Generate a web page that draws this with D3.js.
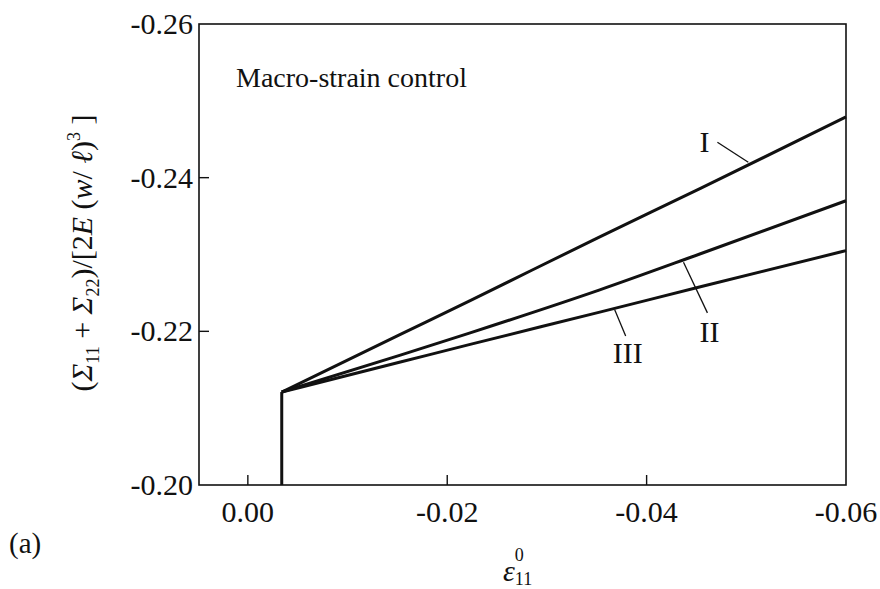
<!DOCTYPE html>
<html>
<head>
<meta charset="utf-8" />
<title>Macro-strain control</title>
<script src="https://d3js.org/d3.v7.min.js"></script>
<style>
    body { margin: 0; background: #fff; }
    svg text { font-family: "Liberation Serif", "Times New Roman", serif; fill: #111; }
</style>
</head>
<body>
<svg id="chart" width="880" height="589"></svg>
<script>
    // data (x = eps11^0, y = normalised stress sum)
    var xTicks = [0.00, -0.02, -0.04, -0.06];
    var yTicks = [-0.20, -0.22, -0.24, -0.26];
    var xTickLabels = ["0.00", "-0.02", "-0.04", "-0.06"];
    var yTickLabels = ["-0.20", "-0.22", "-0.24", "-0.26"];

    // vertical jump at the onset
    var riseX = [-0.0034, -0.0034];
    var riseY = [-0.200, -0.2121];

    var strainX = [-0.0034, -0.0153, -0.0223, -0.0353, -0.0454, -0.0600];
    var curveI   = [-0.2121, -0.2196, -0.2240, -0.2323, -0.2386, -0.2479];
    var curveII  = [-0.2121, -0.2169, -0.2198, -0.2254, -0.2301, -0.2370];
    var curveIII = [-0.2121, -0.2160, -0.2183, -0.2225, -0.2258, -0.2305];

    var curveNames = ["I", "II", "III"];
    // label anchor and leader line, in data units
    var labelAt = [[-0.0458, -0.2433], [-0.0463, -0.2186], [-0.0381, -0.2159]];
    var leaderFrom = [[-0.0471, -0.2446], [-0.0461, -0.2224], [-0.0379, -0.2194]];
    var leaderTo = [[-0.0502, -0.2420], [-0.0437, -0.2290], [-0.0368, -0.2228]];

    var svg = d3.select("#chart");
    var pLeft = 199, pRight = 846, pTop = 24, pBottom = 485;

    var x = d3.scaleLinear().domain([0.0049, -0.06]).range([pLeft, pRight]);
    var y = d3.scaleLinear().domain([-0.20, -0.26]).range([pBottom, pTop]);

    // frame
    svg.append("rect")
        .attr("x", pLeft).attr("y", pTop)
        .attr("width", pRight - pLeft).attr("height", pBottom - pTop)
        .attr("fill", "none").attr("stroke", "#111").attr("stroke-width", 1.6);

    // ticks (inward)
    svg.append("g").selectAll("line")
        .data(xTicks.slice(0, 3))
        .join("line")
        .attr("x1", d => x(d)).attr("x2", d => x(d))
        .attr("y1", pBottom).attr("y2", pBottom - 10)
        .attr("stroke", "#111").attr("stroke-width", 1.4);

    svg.append("g").selectAll("line")
        .data(yTicks.slice(1, 3))
        .join("line")
        .attr("x1", pLeft).attr("x2", pLeft + 10)
        .attr("y1", d => y(d)).attr("y2", d => y(d))
        .attr("stroke", "#111").attr("stroke-width", 1.4);

    svg.append("g").selectAll("text")
        .data(xTicks)
        .join("text")
        .attr("x", d => x(d))
        .attr("y", pBottom + 37)
        .attr("text-anchor", "middle")
        .style("font-size", "30px")
        .text((d, i) => xTickLabels[i]);

    svg.append("g").selectAll("text")
        .data(yTicks)
        .join("text")
        .attr("x", pLeft - 6)
        .attr("y", d => y(d) + 10)
        .attr("text-anchor", "end")
        .style("font-size", "30px")
        .text((d, i) => yTickLabels[i]);

    // curves
    var straight = d3.line().x(d => x(d[0])).y(d => y(d[1]));
    var smooth = d3.line().x(d => x(d[0])).y(d => y(d[1])).curve(d3.curveMonotoneX);

    svg.append("path")
        .attr("d", straight(d3.zip(riseX, riseY)))
        .attr("fill", "none").attr("stroke", "#111").attr("stroke-width", 3);

    [curveI, curveII, curveIII].forEach(function (c) {
        svg.append("path")
            .attr("d", smooth(d3.zip(strainX, c)))
            .attr("fill", "none")
            .attr("stroke", "#111")
            .attr("stroke-width", 3)
            .attr("stroke-linejoin", "round");
    });

    // curve labels with leaders
    curveNames.forEach(function (name, i) {
        svg.append("line")
            .attr("x1", x(leaderFrom[i][0])).attr("y1", y(leaderFrom[i][1]))
            .attr("x2", x(leaderTo[i][0])).attr("y2", y(leaderTo[i][1]))
            .attr("stroke", "#111").attr("stroke-width", 1.3);
        svg.append("text")
            .attr("x", x(labelAt[i][0])).attr("y", y(labelAt[i][1]))
            .attr("text-anchor", "middle")
            .style("font-size", "30px")
            .text(name);
    });

    svg.append("text")
        .attr("x", 236).attr("y", 87)
        .style("font-size", "28px")
        .text("Macro-strain control");

    // y axis title
    var yt = svg.append("text")
        .attr("transform", "translate(92,253) rotate(-90)")
        .attr("text-anchor", "middle")
        .style("font-size", "30px");
    yt.append("tspan").text("(");
    yt.append("tspan").style("font-style", "italic").text("\u03A3");
    yt.append("tspan").attr("dy", 7).style("font-size", "18px").text("11");
    yt.append("tspan").attr("dy", -7).text(" + ");
    yt.append("tspan").style("font-style", "italic").text("\u03A3");
    yt.append("tspan").attr("dy", 7).style("font-size", "18px").text("22");
    yt.append("tspan").attr("dy", -7).text(")/[2");
    yt.append("tspan").style("font-style", "italic").text("E");
    yt.append("tspan").text(" (");
    yt.append("tspan").style("font-style", "italic").text("w");
    yt.append("tspan").text("/ ");
    yt.append("tspan").style("font-style", "italic").text("\u2113");
    yt.append("tspan").text(")");
    yt.append("tspan").attr("dy", -12).style("font-size", "18px").text("3");
    yt.append("tspan").attr("dy", 12).text(" ]");

    // x axis title
    var xt = svg.append("text")
        .attr("x", 503).attr("y", 581)
        .style("font-size", "30px");
    xt.append("tspan").style("font-style", "italic").text("\u03B5");
    xt.append("tspan").attr("dy", -20).style("font-size", "18px").text("0");
    xt.append("tspan").attr("dx", -9).attr("dy", 24).style("font-size", "18px").text("11");

    svg.append("text")
        .attr("x", 9).attr("y", 553)
        .style("font-size", "29px")
        .text("(a)");
</script>
</body>
</html>
